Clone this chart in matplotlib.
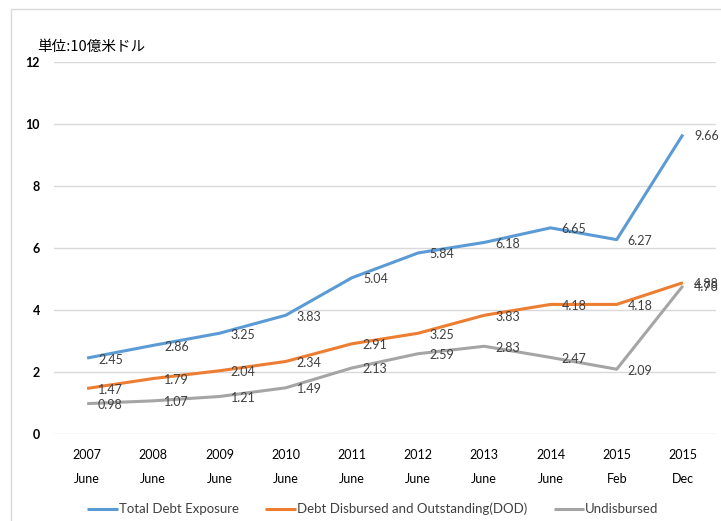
import matplotlib
matplotlib.use("Agg")
import matplotlib.pyplot as plt
from matplotlib.patches import Rectangle

years = ["2007", "2008", "2009", "2010", "2011", "2012", "2013", "2014", "2015", "2015"]
months = ["June", "June", "June", "June", "June", "June", "June", "June", "Feb", "Dec"]
total_debt = [2.45, 2.86, 3.25, 3.83, 5.04, 5.84, 6.18, 6.65, 6.27, 9.66]
dod = [1.47, 1.79, 2.04, 2.34, 2.91, 3.25, 3.83, 4.18, 4.18, 4.88]
undisbursed = [0.98, 1.07, 1.21, 1.49, 2.13, 2.59, 2.83, 2.47, 2.09, 4.78]
series_names = ["Total Debt Exposure", "Debt Disbursed and Outstanding(DOD)", "Undisbursed"]
y_ticks = [0, 2, 4, 6, 8, 10, 12]
unit_label = "単位:10億米ドル"

colors = ["#5B9BD5", "#ED7D31", "#A5A5A5"]
base_font = "Lato"

W, H = 721, 521
fig = plt.figure(figsize=(W / 100, H / 100), dpi=100)
fig.patch.set_facecolor("white")

# light chart-area frame
fig.patches.append(Rectangle((11 / W, -0.05), 1.2, (H - 9.5) / H + 0.05,
                             transform=fig.transFigure, fill=False,
                             edgecolor="#D9D9D9", linewidth=1.0, zorder=0))

ax = fig.add_axes([54 / W, (H - 434) / H, (716 - 54) / W, (434 - 62) / H])
x = list(range(len(years)))

for vals, name, c in zip([total_debt, dod, undisbursed], series_names, colors):
    ax.plot(x, vals, color=c, linewidth=2.2, label=name, solid_joinstyle="round",
            solid_capstyle="butt", zorder=3)
    for xi, v in zip(x, vals):
        ax.annotate(f"{v:.2f}", (xi, v), xytext=(11, -1.5), textcoords="offset pixels",
                    ha="left", va="center", fontsize=9, color="#404040",
                    family=base_font, zorder=4)

ax.set_xlim(-0.5, len(years) - 0.5)
ax.set_ylim(0, 12)
ax.set_yticks(y_ticks)
ax.set_yticklabels([str(t) for t in y_ticks], fontsize=9, fontweight="bold",
                   family=base_font, color="black")
ax.set_xticks(x)
ax.set_xticklabels([f"{y}\n{m}" for y, m in zip(years, months)], fontsize=9,
                   family=base_font, color="black", linespacing=2.15)
ax.tick_params(axis="both", length=0)
ax.tick_params(axis="y", pad=10)
ax.tick_params(axis="x", pad=11)
ax.grid(axis="y", color="#D9D9D9", linewidth=1.0)
ax.set_axisbelow(True)
for s in ax.spines.values():
    s.set_visible(False)

fig.text(37 / W, 1 - 47 / H, unit_label, fontsize=10.5, va="center", ha="left",
         family=["Noto Sans CJK JP", "DejaVu Sans"], color="black")

leg = fig.legend(loc="center", bbox_to_anchor=(373 / W, 1 - 509 / H), ncol=3,
                 frameon=False, handlelength=2.3, columnspacing=2.0, handletextpad=0.1,
                 prop={"family": base_font, "size": 9.5})
for t in leg.get_texts():
    t.set_color("#404040")

fig.savefig("out.png", dpi=100, facecolor="white")
